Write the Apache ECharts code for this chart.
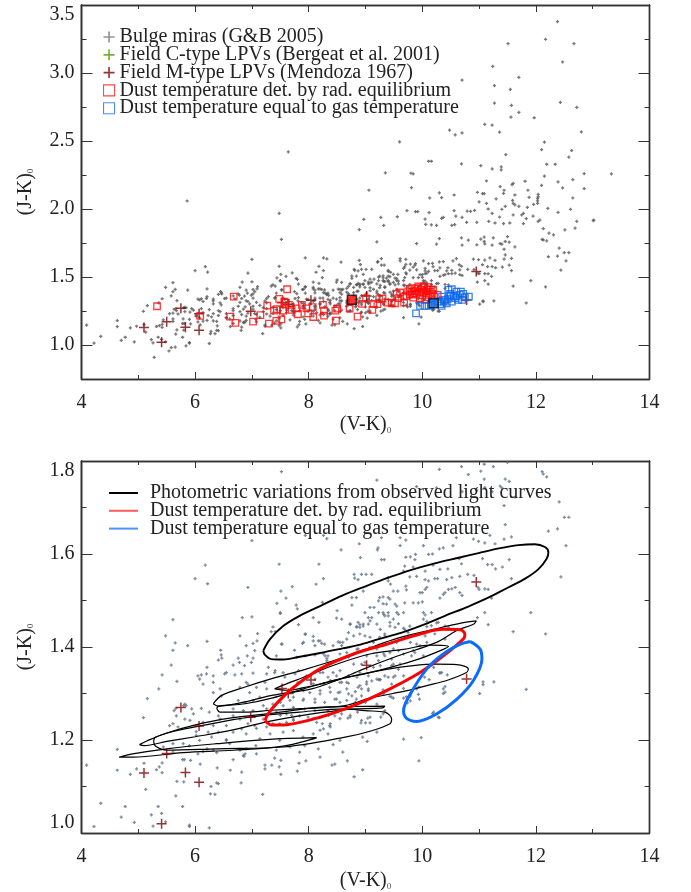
<!DOCTYPE html>
<html><head><meta charset="utf-8">
<style>html,body{margin:0;padding:0;background:#fff}#c{width:691px;height:892px}</style>
<script src="https://cdn.jsdelivr.net/npm/echarts@6/dist/echarts.min.js"></script>
</head><body><div id="c"></div>
<script>
const xMajor=[4,6,8,10,12,14], xMinor=[5,7,9,11,13];
const yTopMajor=[1,1.5,2,2.5,3,3.5], yTopMinor=[0.75,1.25,1.75,2.25,2.75,3.25];
const yBotMajor=[1,1.2,1.4,1.6,1.8], yBotMinor=[1.1,1.3,1.5,1.7];

const bulge=[
[7.52,1.777],[7.0,1.629],[7.94,1.64],[8.26,1.64],[8.32,1.633],[8.57,1.609],[6.18,1.576],[7.48,1.578],[8.18,1.578],[6.0,1.547],[6.22,1.536],[8.26,1.547],[8.13,1.535],[6.93,1.528],[7.71,1.53],[7.51,1.52],[7.6,1.505],[7.44,1.494],[7.78,1.49],[8.24,1.496],[7.8,1.482],[7.5,1.474],[8.5,1.478],[6.83,1.463],[7.0,1.465],[5.61,1.459],[7.82,1.448],[8.08,1.463],[8.18,1.453],[8.49,1.462],[8.58,1.46],[7.37,1.443],[7.34,1.433],[7.41,1.433],[7.1,1.429],[6.79,1.424],[7.94,1.428],[8.08,1.423],[5.48,1.424],[5.65,1.409],[5.87,1.403],[6.21,1.412],[5.61,1.393],[6.45,1.393],[7.02,1.408],[6.9,1.403],[7.09,1.413],[7.52,1.406],[7.89,1.408],[8.08,1.413],[8.17,1.413],[8.23,1.408],[8.52,1.411],[8.6,1.41],[8.43,1.403],[7.05,1.392],[7.75,1.393],[6.46,1.383],[6.47,1.376],[6.41,1.372],[6.21,1.356],[5.58,1.361],[6.76,1.376],[6.78,1.367],[6.67,1.361],[6.92,1.381],[7.02,1.376],[6.99,1.367],[6.87,1.36],[7.29,1.356],[7.79,1.378],[7.94,1.381],[8.11,1.383],[8.29,1.381],[8.32,1.375],[8.34,1.381],[7.43,1.381],[8.55,1.385],
[5.42,1.34],[5.68,1.326],[5.36,1.31],[5.16,1.289],[5.09,1.248],[4.63,1.18],[4.09,1.146],[4.63,1.135],[4.97,1.138],[4.86,1.126],[5.1,1.15],[5.42,1.151],[5.32,1.136],[5.42,1.13],[5.37,1.142],[5.13,1.094],[5.68,1.111],[5.8,1.11],[5.66,1.08],[5.78,1.057],[5.35,1.057],[5.41,1.042],[5.23,1.039],[4.77,1.057],[4.34,1.064],[4.7,1.034],[4.93,1.023],[4.22,1.014],[5.26,1.015],[5.48,1.024],[5.9,1.014],[6.25,1.011],[6.38,1.108],[6.41,1.106],[6.28,1.1],[6.27,1.084],[6.35,1.083],[6.81,1.108],[7.19,1.083],[6.39,1.14],[6.09,1.148],[5.92,1.156],[5.81,1.158],[6.67,1.158],[6.82,1.131],[6.62,1.135],[7.23,1.146],[7.23,1.138],[7.35,1.146],[7.51,1.126],[7.48,1.142],[7.8,1.133],[7.83,1.15],[7.95,1.155],[7.4,1.161],[7.51,1.156],[8.41,1.146],[8.46,1.148],[8.43,1.19],[8.34,1.213],[8.26,1.224],[8.24,1.235],[8.37,1.231],[8.46,1.252],[8.58,1.256],[6.85,1.167],[6.88,1.17],[6.86,1.165],[6.79,1.178],[6.9,1.181],[7.07,1.188],[6.61,1.192],[6.55,1.199],[6.38,1.173],[6.21,1.181],[6.32,1.178],[6.05,1.17],[6.14,1.175],[5.78,1.158],[5.61,1.174],[5.44,1.185],[5.61,1.192],[5.79,1.192],[5.9,1.188],[6.08,1.199],[6.29,1.206],[6.55,1.201],[6.9,1.213],[7.05,1.231],[7.08,1.225],[7.26,1.228],[7.49,1.235],[7.61,1.238],[7.73,1.245],[7.99,1.249],[8.14,1.238],[5.61,1.235],[5.55,1.231],[5.7,1.228],[5.91,1.242],[5.94,1.267],[5.82,1.277],[5.8,1.274],[5.84,1.274],[5.66,1.268],[5.63,1.263],[5.82,1.245],[5.67,1.252],[5.97,1.256],[6.11,1.268],[6.02,1.21],[6.02,1.218],[6.25,1.26],[6.41,1.252],[6.32,1.302],
[6.05,1.338],[6.11,1.34],[6.2,1.342],[6.32,1.338],[6.08,1.331],[6.14,1.32],[6.32,1.324],[6.52,1.342],[6.44,1.31],[6.46,1.295],[6.55,1.345],[6.7,1.34],[6.82,1.342],[6.9,1.324],[6.79,1.313],[6.93,1.32],[7.08,1.313],[7.23,1.324],[7.02,1.344],[7.26,1.342],[7.4,1.345],[7.58,1.335],[7.76,1.342],[7.81,1.324],[6.96,1.302],[7.26,1.31],[7.14,1.292],[7.02,1.285],[6.88,1.281],[6.76,1.285],[6.67,1.267],[6.85,1.263],[7.02,1.263],[7.2,1.274],[7.26,1.267],[7.37,1.277],[7.96,1.338],[8.11,1.331],[8.25,1.345],[8.34,1.335],[8.49,1.338],[8.58,1.324],[7.87,1.31],[8.02,1.302],[8.2,1.306],[8.37,1.313],[8.52,1.302],[7.73,1.292],[7.9,1.285],[8.11,1.288],[8.28,1.281],[8.46,1.288],[7.55,1.274],[7.73,1.27],[7.93,1.267],[8.11,1.263],[8.34,1.263],[7.43,1.26],[7.61,1.256],[7.84,1.252],[8.55,1.281],[6.67,1.252],[6.79,1.245],[6.55,1.231],[6.44,1.245],[6.32,1.231],[6.14,1.238],[6.23,1.217],[6.41,1.217],[6.67,1.217],[6.82,1.224],[6.93,1.235],[7.2,1.245],[7.37,1.235],[7.55,1.217],[7.32,1.213],[7.73,1.22],[7.9,1.206],[8.08,1.213],[7.49,1.199],[7.14,1.203],[7.43,1.178],[7.67,1.185],[7.84,1.174],[7.93,1.188],[7.08,1.17],[8.17,1.181],[8.2,1.163],[8.55,1.199],[8.6,1.174],
[5.28,0.909],[5.54,0.956],[5.58,0.98],[5.65,0.985],[5.84,0.993],[5.9,1.017],
[5.86,2.059],[7.64,2.42],[7.48,1.968],
[12.38,3.378],[11.51,3.216],[12.17,3.248],[12.67,3.216],[12.47,3.081],[11.24,3.049],[11.7,2.968],[10.7,2.948],[11.27,2.907],[11.55,2.88],[11.27,2.779],[11.57,2.762],[12.43,2.784],[12.72,2.747],[11.7,2.71],[11.56,2.676],[11.97,2.671],[11.1,2.622],[11.23,2.617],[10.48,2.58],[10.58,2.545],[10.7,2.56],[11.36,2.565],[12.8,2.567],[9.6,2.494],[12.15,2.491],[12.1,2.437],[12.63,2.43],[11.47,2.4],[12.58,2.381],[10.11,2.351],[10.16,2.351],[10.69,2.332],[11.03,2.319],[12.19,2.329],[12.34,2.329],[11.23,2.295],[11.39,2.31],[11.39,2.287],[9.35,2.265],[9.8,2.263],[9.84,2.258],[12.85,2.26],[13.33,2.258],[12.15,2.241],[12.65,2.216],[11.13,2.206],[11.81,2.204],[12.39,2.199],[11.6,2.189],[11.58,2.179],[12.1,2.174],[11.37,2.165],[9.81,2.157],[9.06,2.138],[12.47,2.155],[12.85,2.15],[11.86,2.138],[11.44,2.138],[11.43,2.115],[10.97,2.123],[11.06,2.113],[11.09,2.113],[10.3,2.118],[10.56,2.103],[11.63,2.103],[12.04,2.108],[12.04,2.09],[12.03,2.076],[12.03,2.059],[12.03,2.042],[10.13,2.081],[10.34,2.084],[11.3,2.074],[11.88,2.086],[11.59,2.064],[11.6,2.042],[11.0,2.052],[11.13,2.042],[12.65,2.081],[11.63,2.03],[11.7,2.02],[11.46,2.02],[11.4,1.998],[11.85,2.012],[11.96,2.034],[12.21,2.005],[11.16,2.0],[11.23,1.968],[9.73,1.988],[9.88,1.98],[9.92,1.98],[10.12,1.973],[10.56,1.988],[10.59,1.948],[10.79,1.985],[10.85,1.983],[10.92,1.99],[12.39,1.975],[12.61,1.998],[11.6,1.956],[11.75,1.956],[11.78,1.968],[11.95,1.948],[11.36,1.941],[9.56,1.943],[9.27,1.939],[8.97,1.924],[10.7,1.939],[10.37,1.939],[10.34,1.931],[10.05,1.926],[11.83,1.929],[12.07,1.919],[13.02,1.919],
[10.06,1.887],[9.32,1.88],[8.89,1.848],[10.16,1.884],[10.25,1.88],[10.52,1.88],[10.57,1.885],[10.78,1.902],[10.96,1.902],[11.17,1.909],[11.28,1.897],[11.43,1.892],[11.54,1.897],[11.78,1.892],[12.04,1.909],[12.13,1.855],[12.31,1.81],[12.23,1.823],[12.51,1.847],[12.69,1.86],[12.72,1.909],[13.01,1.914],
[10.3,1.782],[10.69,1.788],[10.81,1.771],[11.09,1.793],[11.25,1.788],[11.03,1.778],[11.5,1.797],[11.09,1.761],[11.46,1.761],[11.53,1.756],[12.11,1.777],[12.13,1.772],[12.19,1.766],[11.37,1.746],[11.4,1.742],[9.2,1.759],[12.41,1.712],[12.5,1.679],[12.58,1.679],[12.22,1.649],[12.38,1.654],[12.53,1.618],[12.44,1.551],[11.91,1.474],[11.6,1.433],[12.17,1.428],[11.16,1.448],[11.1,1.474],[10.97,1.463],[11.44,1.704],[11.63,1.722],[11.23,1.734],[11.1,1.743],[10.7,1.734],[10.96,1.737],[9.9,1.745],[10.25,1.742],
[11.46,1.663],[11.57,1.637],[11.44,1.632],[11.19,1.64],[11.1,1.624],[11.28,1.622],[10.9,1.632],[10.99,1.627],[10.6,1.635],[10.54,1.618],[10.37,1.613],[10.3,1.611],[10.02,1.618],[9.61,1.635],[9.71,1.63],[9.61,1.618],[9.28,1.635],[9.22,1.613],[9.21,1.609],[8.89,1.622],[8.91,1.592],[9.28,1.588],[9.33,1.588],
[9.71,1.593],[9.79,1.594],[9.88,1.599],[9.87,1.588],[10.11,1.599],[10.18,1.6],[10.65,1.59],[10.69,1.579],[11.06,1.59],[11.15,1.577],[11.23,1.577],[11.29,1.568],[11.41,1.572],[11.53,1.588],[9.69,1.574],[9.67,1.563],[9.84,1.572],[10.19,1.576],[10.31,1.567],[10.45,1.568],[10.05,1.563],[9.9,1.552],[9.78,1.551],[9.4,1.549],[8.93,1.556],[9.01,1.556],[9.11,1.556],[8.8,1.556],[8.81,1.548],[8.87,1.545],[10.8,1.556],[10.91,1.554],[10.66,1.552],[10.52,1.549],[10.22,1.547],[10.27,1.547],[10.43,1.545],[10.11,1.542],[11.57,1.547],[10.05,1.545],[10.08,1.528],[10.05,1.524],[9.4,1.542],[9.44,1.535],[9.71,1.531],[9.72,1.523],[9.49,1.52],[9.57,1.52],[11.0,1.524],[11.1,1.525],[11.16,1.524],[10.98,1.528],[9.96,1.517],[10.0,1.517],[10.58,1.528],[10.52,1.525],[10.46,1.524],[10.4,1.517],[10.37,1.513],[10.31,1.505],[10.66,1.517],[10.7,1.511],[11.22,1.505],[8.96,1.52],[8.84,1.506],[8.76,1.506],[8.76,1.49],[9.25,1.506],[9.31,1.508],[9.23,1.499],[9.4,1.506],[9.43,1.503],[9.08,1.485],[9.15,1.485],[9.23,1.474],[9.31,1.493],[9.37,1.492],[9.52,1.492],[9.55,1.488],[9.69,1.495],[9.84,1.495],[9.93,1.495],[10.0,1.497],[8.99,1.474],[9.05,1.463],[9.11,1.463],[8.87,1.453],[8.96,1.449],[9.05,1.449],[9.31,1.474],[9.34,1.467],[9.55,1.474],[9.58,1.47],[9.4,1.474],[9.67,1.474],[10.02,1.474],[10.05,1.469],[10.16,1.474],[9.49,1.46],[9.43,1.453],[9.52,1.442],[9.43,1.445],[8.9,1.442],[8.84,1.443],[8.73,1.449],[8.67,1.417],[9.69,1.438],[9.78,1.445],[10.08,1.444],[10.16,1.446],[10.28,1.453],[10.4,1.445],[10.46,1.442],[9.08,1.421],[8.99,1.424],[8.9,1.428],[8.79,1.424],[9.25,1.421],[9.34,1.428],[9.75,1.431],[10.05,1.424],[10.22,1.428],[10.4,1.417],[9.9,1.406],[9.96,1.403],[10.08,1.41],[9.49,1.396],[9.2,1.396],[8.87,1.396],[9.58,1.392],[9.67,1.385],[9.34,1.381],[9.81,1.381],[10.02,1.381],[8.99,1.367],[9.46,1.374],[9.23,1.371],[8.79,1.385],[8.7,1.378],[9.02,1.381],[9.46,1.36],[9.61,1.363],[9.87,1.388],
[10.34,1.345],[10.31,1.344],[10.44,1.34],[10.04,1.335],[10.12,1.33],[11.07,1.325],[11.07,1.319],[11.26,1.325],[11.01,1.3],[11.83,1.309],[10.4,1.315],[10.37,1.31],[9.94,1.314],[9.9,1.31],[9.79,1.295],[9.72,1.293],[9.67,1.311],[9.67,1.29],[9.49,1.29],[9.43,1.294],[9.79,1.284],[9.95,1.288],[9.74,1.28],[9.31,1.308],[9.46,1.32],[9.23,1.33],[9.25,1.33],[9.11,1.327],[9.02,1.325],[8.93,1.31],[8.87,1.313],[9.05,1.306],[8.93,1.295],[8.7,1.322],[8.67,1.31],[8.82,1.304],[8.76,1.295],[8.84,1.288],[9.2,1.277],[9.0,1.281],[8.82,1.281],[8.67,1.285],[8.7,1.338],[10.18,1.257],[10.3,1.248],[9.27,1.249],[8.86,1.26],[9.34,1.263],[9.31,1.256],[8.73,1.249],[8.69,1.247],[8.92,1.237],[9.0,1.237],[9.08,1.237],[9.04,1.247],[9.2,1.217],[8.95,1.206],[9.03,1.197],[9.67,1.202],[9.98,1.205],[8.68,1.155],[8.95,1.136],[8.8,1.121],[9.94,1.155],[9.4,1.335],[9.52,1.338],
[7.5,1.472],[7.94,1.427],[7.53,1.406],[7.91,1.41],[8.11,1.403],[8.2,1.413],[8.28,1.406],[8.26,1.385],[8.32,1.37],[8.35,1.365],[8.55,1.41],[8.58,1.403],[8.73,1.449],[8.7,1.431],[8.85,1.444],[8.9,1.448],[8.96,1.445],[9.08,1.456],[9.2,1.449],[9.32,1.47],[9.4,1.467],[9.58,1.45],[9.26,1.438],[9.34,1.424],[9.14,1.41],[9.08,1.399],[8.85,1.395],[8.67,1.388],[8.58,1.374],[9.55,1.41],[9.67,1.44],[10.02,1.46],[10.08,1.455],[10.25,1.452],[9.79,1.41],[9.84,1.392],[9.43,1.388],[9.32,1.385],[9.2,1.381],[9.49,1.363],[9.58,1.352],[9.26,1.36],[9.14,1.356],[8.93,1.363],[8.79,1.363],[8.55,1.349],[8.43,1.345],[8.2,1.345],[8.11,1.345],[7.99,1.335],[7.82,1.349],[7.55,1.345],[7.41,1.349],[8.9,1.345],[9.05,1.338],[9.2,1.331],[9.26,1.33],[9.34,1.338],[9.49,1.335],[9.67,1.338],[9.93,1.342],[10.31,1.345],[10.2,1.356],[8.85,1.335],[8.67,1.324],[8.55,1.324],[8.38,1.328],[8.26,1.321],[8.08,1.321],[8.9,1.317],[9.05,1.31],[9.02,1.32],[8.38,1.303],[8.55,1.303],[8.7,1.299],[8.2,1.299],[7.73,1.303],[7.91,1.306],[7.91,1.288],[7.67,1.285],[7.5,1.281],[8.11,1.281],[8.49,1.288],[9.32,1.299],[9.46,1.292],[9.79,1.3],[9.93,1.298],[10.2,1.26],[10.28,1.249],[10.37,1.3],[10.4,1.303],[7.7,1.253],[7.5,1.253],[7.73,1.242],[8.08,1.246],[8.35,1.253],[8.55,1.246],[8.73,1.253],[8.93,1.242],[9.08,1.249],[8.38,1.235],[8.2,1.221],[8.38,1.228]
];

const miraM=[[5.1,1.129],[5.5,1.171],[5.75,1.27],[5.83,1.13],[6.07,1.23],[6.07,1.109],[5.41,1.02],[6.98,1.249],[7.53,1.311],[7.64,1.3],[8.04,1.329],[10.95,1.54],[10.78,1.331],[9.02,1.361]];

const dustRad=[[5.33,1.285],[6.09,1.214],[6.68,1.356],[6.62,1.209],[6.71,1.162],[7.02,1.172],[7.15,1.219],[7.27,1.29],[7.3,1.157],[7.43,1.177],[7.52,1.189],[7.39,1.253],[7.44,1.263],[7.48,1.339],[7.55,1.253],[7.57,1.319],[7.6,1.312],[7.62,1.41],[7.65,1.295],[7.7,1.258],[7.79,1.27],[7.81,1.226],[7.88,1.295],[7.96,1.27],[7.99,1.233],[8.07,1.278],[8.08,1.206],[8.25,1.295],[8.27,1.253],[8.27,1.216],[8.47,1.253],[8.5,1.268],[8.48,1.179],[8.72,1.268],[8.86,1.209],[8.94,1.302],[9.01,1.342],[9.12,1.258],[9.14,1.3],[9.21,1.3],[9.24,1.337],[9.3,1.342],[9.39,1.312],[9.46,1.307],[9.52,1.307],[9.55,1.376],[9.61,1.386],[9.58,1.344],[9.67,1.356],[9.68,1.312],[9.78,1.413],[9.81,1.393],[9.86,1.418],[9.78,1.373],[9.84,1.349],[9.93,1.43],[9.9,1.376],[9.98,1.405],[9.96,1.344],[10.05,1.332],[10.03,1.43],[10.08,1.405],[10.13,1.41],[10.11,1.369],[10.18,1.376],[10.19,1.405],[10.21,1.356],[10.27,1.369],[9.82,1.37],[9.88,1.4],[9.92,1.415],[9.95,1.39],[10.0,1.42],[10.02,1.385],[10.06,1.395],[10.1,1.425],[10.15,1.39],[9.86,1.38],[9.75,1.395],[9.72,1.36],[10.0,1.365],[10.07,1.35]];
const dustGas=[[9.89,1.233],[9.96,1.287],[10.04,1.287],[10.11,1.287],[10.34,1.287],[10.4,1.332],[10.35,1.356],[10.46,1.405],[10.52,1.41],[10.6,1.393],[10.49,1.376],[10.55,1.356],[10.66,1.369],[10.72,1.376],[10.75,1.351],[10.82,1.356],[10.63,1.332],[10.52,1.319],[10.43,1.307],[10.28,1.319],[10.7,1.332],[10.58,1.344],[10.68,1.393],[10.45,1.34],[10.5,1.365],[10.6,1.36],[10.38,1.32],[10.32,1.3],[10.15,1.295]];
const dustRadMean=[[8.76,1.332]];
const dustGasMean=[[10.2,1.307]];

const ellipseLarge=[[7.2,1.392],[7.32,1.417],[7.55,1.445],[7.84,1.467],[8.2,1.488],[8.6,1.511],[8.99,1.53],[9.4,1.549],[9.81,1.566],[10.22,1.58],[10.64,1.592],[10.99,1.602],[11.35,1.612],[11.69,1.619],[11.98,1.621],[12.16,1.615],[12.22,1.604],[12.19,1.59],[12.04,1.567],[11.81,1.547],[11.51,1.528],[11.16,1.506],[10.81,1.487],[10.4,1.467],[10.05,1.449],[9.64,1.431],[9.23,1.417],[8.87,1.404],[8.6,1.397],[8.2,1.387],[7.84,1.379],[7.55,1.373],[7.34,1.374],[7.23,1.383],[7.2,1.392]];
const ellipseB=[[6.32,1.278],[6.47,1.296],[6.88,1.314],[7.35,1.332],[7.94,1.352],[8.5,1.373],[9.0,1.395],[9.6,1.42],[10.2,1.438],[10.7,1.452],[10.95,1.456],[10.9,1.449],[10.6,1.435],[10.25,1.41],[9.55,1.38],[8.95,1.352],[8.49,1.328],[8.05,1.31],[7.35,1.296],[6.88,1.282],[6.41,1.273],[6.32,1.278]];
const ellipseD=[[6.38,1.269],[6.42,1.273],[6.88,1.278],[7.35,1.29],[8.05,1.315],[8.79,1.338],[9.37,1.352],[9.84,1.36],[10.25,1.363],[10.61,1.362],[10.81,1.353],[10.78,1.345],[10.43,1.328],[10.08,1.317],[9.73,1.306],[9.08,1.29],[8.64,1.274],[7.94,1.268],[7.35,1.264],[6.88,1.26],[6.44,1.26],[6.38,1.269]];
const ellipseK=[[7.4,1.31],[7.55,1.318],[7.91,1.335],[8.49,1.363],[9.08,1.385],[9.67,1.395],[10.14,1.404],[10.46,1.401],[10.37,1.395],[9.96,1.375],[9.55,1.36],[9.08,1.345],[8.5,1.33],[8.0,1.315],[7.6,1.307],[7.4,1.31]];
const ellipseI=[[5.27,1.197],[5.3,1.206],[5.67,1.22],[6.07,1.23],[6.96,1.249],[7.84,1.26],[8.64,1.267],[8.99,1.263],[9.34,1.26],[9.46,1.245],[9.43,1.235],[9.11,1.22],[8.64,1.206],[7.55,1.185],[6.38,1.181],[5.5,1.178],[5.3,1.187],[5.27,1.197]];
const ellipseJ=[[5.02,1.19],[5.15,1.198],[5.5,1.215],[5.99,1.232],[6.61,1.247],[7.38,1.258],[8.17,1.27],[8.79,1.272],[9.34,1.273],[9.3,1.269],[8.7,1.266],[8.0,1.255],[7.3,1.24],[6.6,1.22],[6.0,1.207],[5.5,1.197],[5.1,1.188],[5.02,1.19]];
const ellipseH=[[4.66,1.163],[4.9,1.17],[5.5,1.181],[6.38,1.192],[7.26,1.201],[8.14,1.205],[8.1,1.203],[7.55,1.187],[6.67,1.178],[5.79,1.173],[4.9,1.163],[4.66,1.163]];
const ellipseRed=[[7.23,1.242],[7.29,1.257],[7.47,1.283],[7.73,1.313],[8.2,1.353],[8.79,1.385],[9.37,1.406],[9.96,1.428],[10.37,1.438],[10.67,1.437],[10.75,1.427],[10.72,1.417],[10.37,1.381],[9.96,1.345],[9.37,1.306],[8.79,1.274],[8.2,1.249],[7.61,1.233],[7.35,1.232],[7.23,1.242]];
const ellipseBlue=[[10.84,1.412],[11.02,1.395],[11.05,1.374],[10.9,1.328],[10.61,1.288],[10.25,1.256],[9.9,1.24],[9.73,1.246],[9.67,1.263],[9.79,1.299],[10.08,1.353],[10.37,1.385],[10.67,1.406],[10.84,1.412]];
const blackEllipses=[ellipseB,ellipseD,ellipseK,ellipseI,ellipseJ,ellipseH];

const FONT='"Liberation Serif", serif', TXT='#222', AX='#333';
const PLUS='path://M3 0H7V3H10V7H7V10H3V7H0V3H3Z';
const CROSS='path://M4.25 0H5.75V4.25H10V5.75H5.75V10H4.25V5.75H0V4.25H4.25Z';
const L1='Bulge miras (G&B 2005)',L2='Field C-type LPVs (Bergeat et al. 2001)',L3='Field M-type LPVs (Mendoza 1967)',
      L4='Dust temperature det. by rad. equilibrium',L5='Dust temperature equal to gas temperature',L6='Photometric variations from observed light curves';
const GRID=[{left:81.5,top:5,width:568,height:374},{left:81.5,top:461,width:568,height:374}];
const nameRich={s:{fontSize:9,fontFamily:FONT,color:'#555',verticalAlign:'bottom',padding:[8,0,0,0]}};

function xAxes(g){
  const base={gridIndex:g,type:'value',min:4,max:14,interval:2,splitLine:{show:false},minorTick:{show:false},
    axisLine:{show:true,onZero:false,lineStyle:{color:AX,width:1.4}}};
  return [
   {...base,position:'bottom',name:'(V-K){s|0}',nameLocation:'middle',nameGap:g?38:36,
    nameTextStyle:{fontFamily:FONT,fontSize:20,color:TXT,rich:nameRich},
    axisTick:{show:true,inside:true,length:7,lineStyle:{color:AX}},
    axisLabel:{show:true,margin:14,fontFamily:FONT,fontSize:20,color:TXT,formatter:v=>String(v)}},
   {...base,position:'top',axisTick:{show:true,inside:true,length:7,lineStyle:{color:AX}},axisLabel:{show:false}},
   {...base,position:'bottom',axisTick:{show:true,inside:true,length:4,lineStyle:{color:AX},customValues:xMinor},axisLabel:{show:false}},
   {...base,position:'top',axisTick:{show:true,inside:true,length:4,lineStyle:{color:AX},customValues:xMinor},axisLabel:{show:false}}
  ];
}
function yAxes(g,min,max,step,major,minor,extra){
  const base={gridIndex:g,type:'value',min,max,interval:step,splitLine:{show:false},minorTick:{show:false},
    axisLine:{show:true,onZero:false,lineStyle:{color:AX,width:1.4}}};
  return [
   {...base,position:'left',name:'(J-K){s|0}',nameLocation:'middle',nameGap:46,
    nameTextStyle:{fontFamily:FONT,fontSize:20,color:TXT,rich:nameRich},
    axisTick:{show:false},
    axisLabel:{show:true,interval:0,margin:7,fontFamily:FONT,fontSize:20,color:TXT,
      formatter:v=>major.some(m=>Math.abs(m-v)<1e-6)?v.toFixed(1):'',...extra}},
   {...base,position:'left',axisTick:{show:true,inside:true,length:11,lineStyle:{color:AX},customValues:major},axisLabel:{show:false}},
   {...base,position:'right',axisTick:{show:true,inside:true,length:11,lineStyle:{color:AX},customValues:major},axisLabel:{show:false}},
   {...base,position:'left',axisTick:{show:true,inside:true,length:5,lineStyle:{color:AX},customValues:minor},axisLabel:{show:false}},
   {...base,position:'right',axisTick:{show:true,inside:true,length:5,lineStyle:{color:AX},customValues:minor},axisLabel:{show:false}}
  ];
}
const xAxis=[...xAxes(0),...xAxes(1)];
const yAxis=[...yAxes(0,0.75,3.5,0.25,yTopMajor,yTopMinor,{verticalAlignMaxLabel:'top'}),
             ...yAxes(1,1,1.8,0.1,yBotMajor,yBotMinor,{verticalAlignMaxLabel:'top',verticalAlignMinLabel:'bottom'})];
const X0=0,Y0=0,X1=4,Y1=5;
function pts(name,data,xi,yi,symbol,size,style,z){
  return {type:'scatter',name,data,xAxisIndex:xi,yAxisIndex:yi,symbol,symbolSize:size,itemStyle:style,z:z||2,clip:true,silent:true,animation:false};
}
function curve(name,data,color,width,z){
  return {type:'line',name,data,xAxisIndex:X1,yAxisIndex:Y1,smooth:0.35,showSymbol:false,symbol:'none',clip:true,silent:true,animation:false,
    lineStyle:{color,width},itemStyle:{color},z:z||4};
}
const series=[
  pts(L1,bulge,X0,Y0,PLUS,3.2,{color:'#555'},2),
  pts(L2,[],X0,Y0,CROSS,11,{color:'#5a9a00'},3),
  pts(L3,miraM,X0,Y0,CROSS,10,{color:'#7d0000'},3),
  pts(L4,dustRad,X0,Y0,'rect',6.5,{color:'rgba(0,0,0,0)',borderColor:'#ff0a0a',borderWidth:1.3},4),
  pts(L5,dustGas,X0,Y0,'rect',6.5,{color:'rgba(0,0,0,0)',borderColor:'#0a66f0',borderWidth:1.3},4),
  pts('rad mean',dustRadMean,X0,Y0,'rect',9,{color:'#ff0000',borderColor:'#111',borderWidth:1.5},5),
  pts('gas mean',dustGasMean,X0,Y0,'rect',9,{color:'#0a66e8',borderColor:'#111',borderWidth:1.5},5),
  pts('Bulge lower',bulge,X1,Y1,PLUS,3.2,{color:'#5f7286'},2),
  pts('Field M lower',miraM,X1,Y1,CROSS,10,{color:'#7d0000'},5),
  curve(L6,ellipseLarge,'#000',1.9,4),
  ...blackEllipses.map(e=>curve(L6,e,'#000',1.2,4)),
  curve('red line',ellipseRed,'#ff0000',3,6),
  curve('blue line',ellipseBlue,'#0a6cff',3,6)
];
const legendText={fontFamily:FONT,fontSize:20,color:TXT,lineHeight:18};
const legend=[
 {left:103,top:27,orient:'vertical',itemGap:-2.2,itemWidth:11,itemHeight:11,selectedMode:false,textStyle:legendText,align:'left',padding:0,
  data:[
   {name:L1,icon:CROSS,itemStyle:{color:'#777',borderWidth:0}},
   {name:L2,icon:CROSS,itemStyle:{color:'#5a9a00',borderWidth:0}},
   {name:L3,icon:CROSS,itemStyle:{color:'#7d0000',borderWidth:0}},
   {name:L4,icon:'rect',itemStyle:{color:'rgba(0,0,0,0)',borderColor:'#ff1a1a',borderWidth:1.1}},
   {name:L5,icon:'rect',itemStyle:{color:'rgba(0,0,0,0)',borderColor:'#1a6ef5',borderWidth:1.1}}
  ]},
 {left:109,top:483,orient:'vertical',itemGap:-2.2,itemWidth:29,itemHeight:2,selectedMode:false,textStyle:{...legendText,padding:[0,0,0,7]},align:'left',padding:0,
  data:[
   {name:L6,icon:'rect',itemStyle:{color:'#000',borderWidth:0}},
   {name:L4,icon:'rect',itemStyle:{color:'#ff3333',borderWidth:0}},
   {name:L5,icon:'rect',itemStyle:{color:'#2277ff',borderWidth:0}}
  ]}
];
const chart=echarts.init(document.getElementById('c'),null,{renderer:'canvas'});
chart.setOption({animation:false,backgroundColor:'#fff',grid:GRID,xAxis,yAxis,series,legend});
</script></body></html>
